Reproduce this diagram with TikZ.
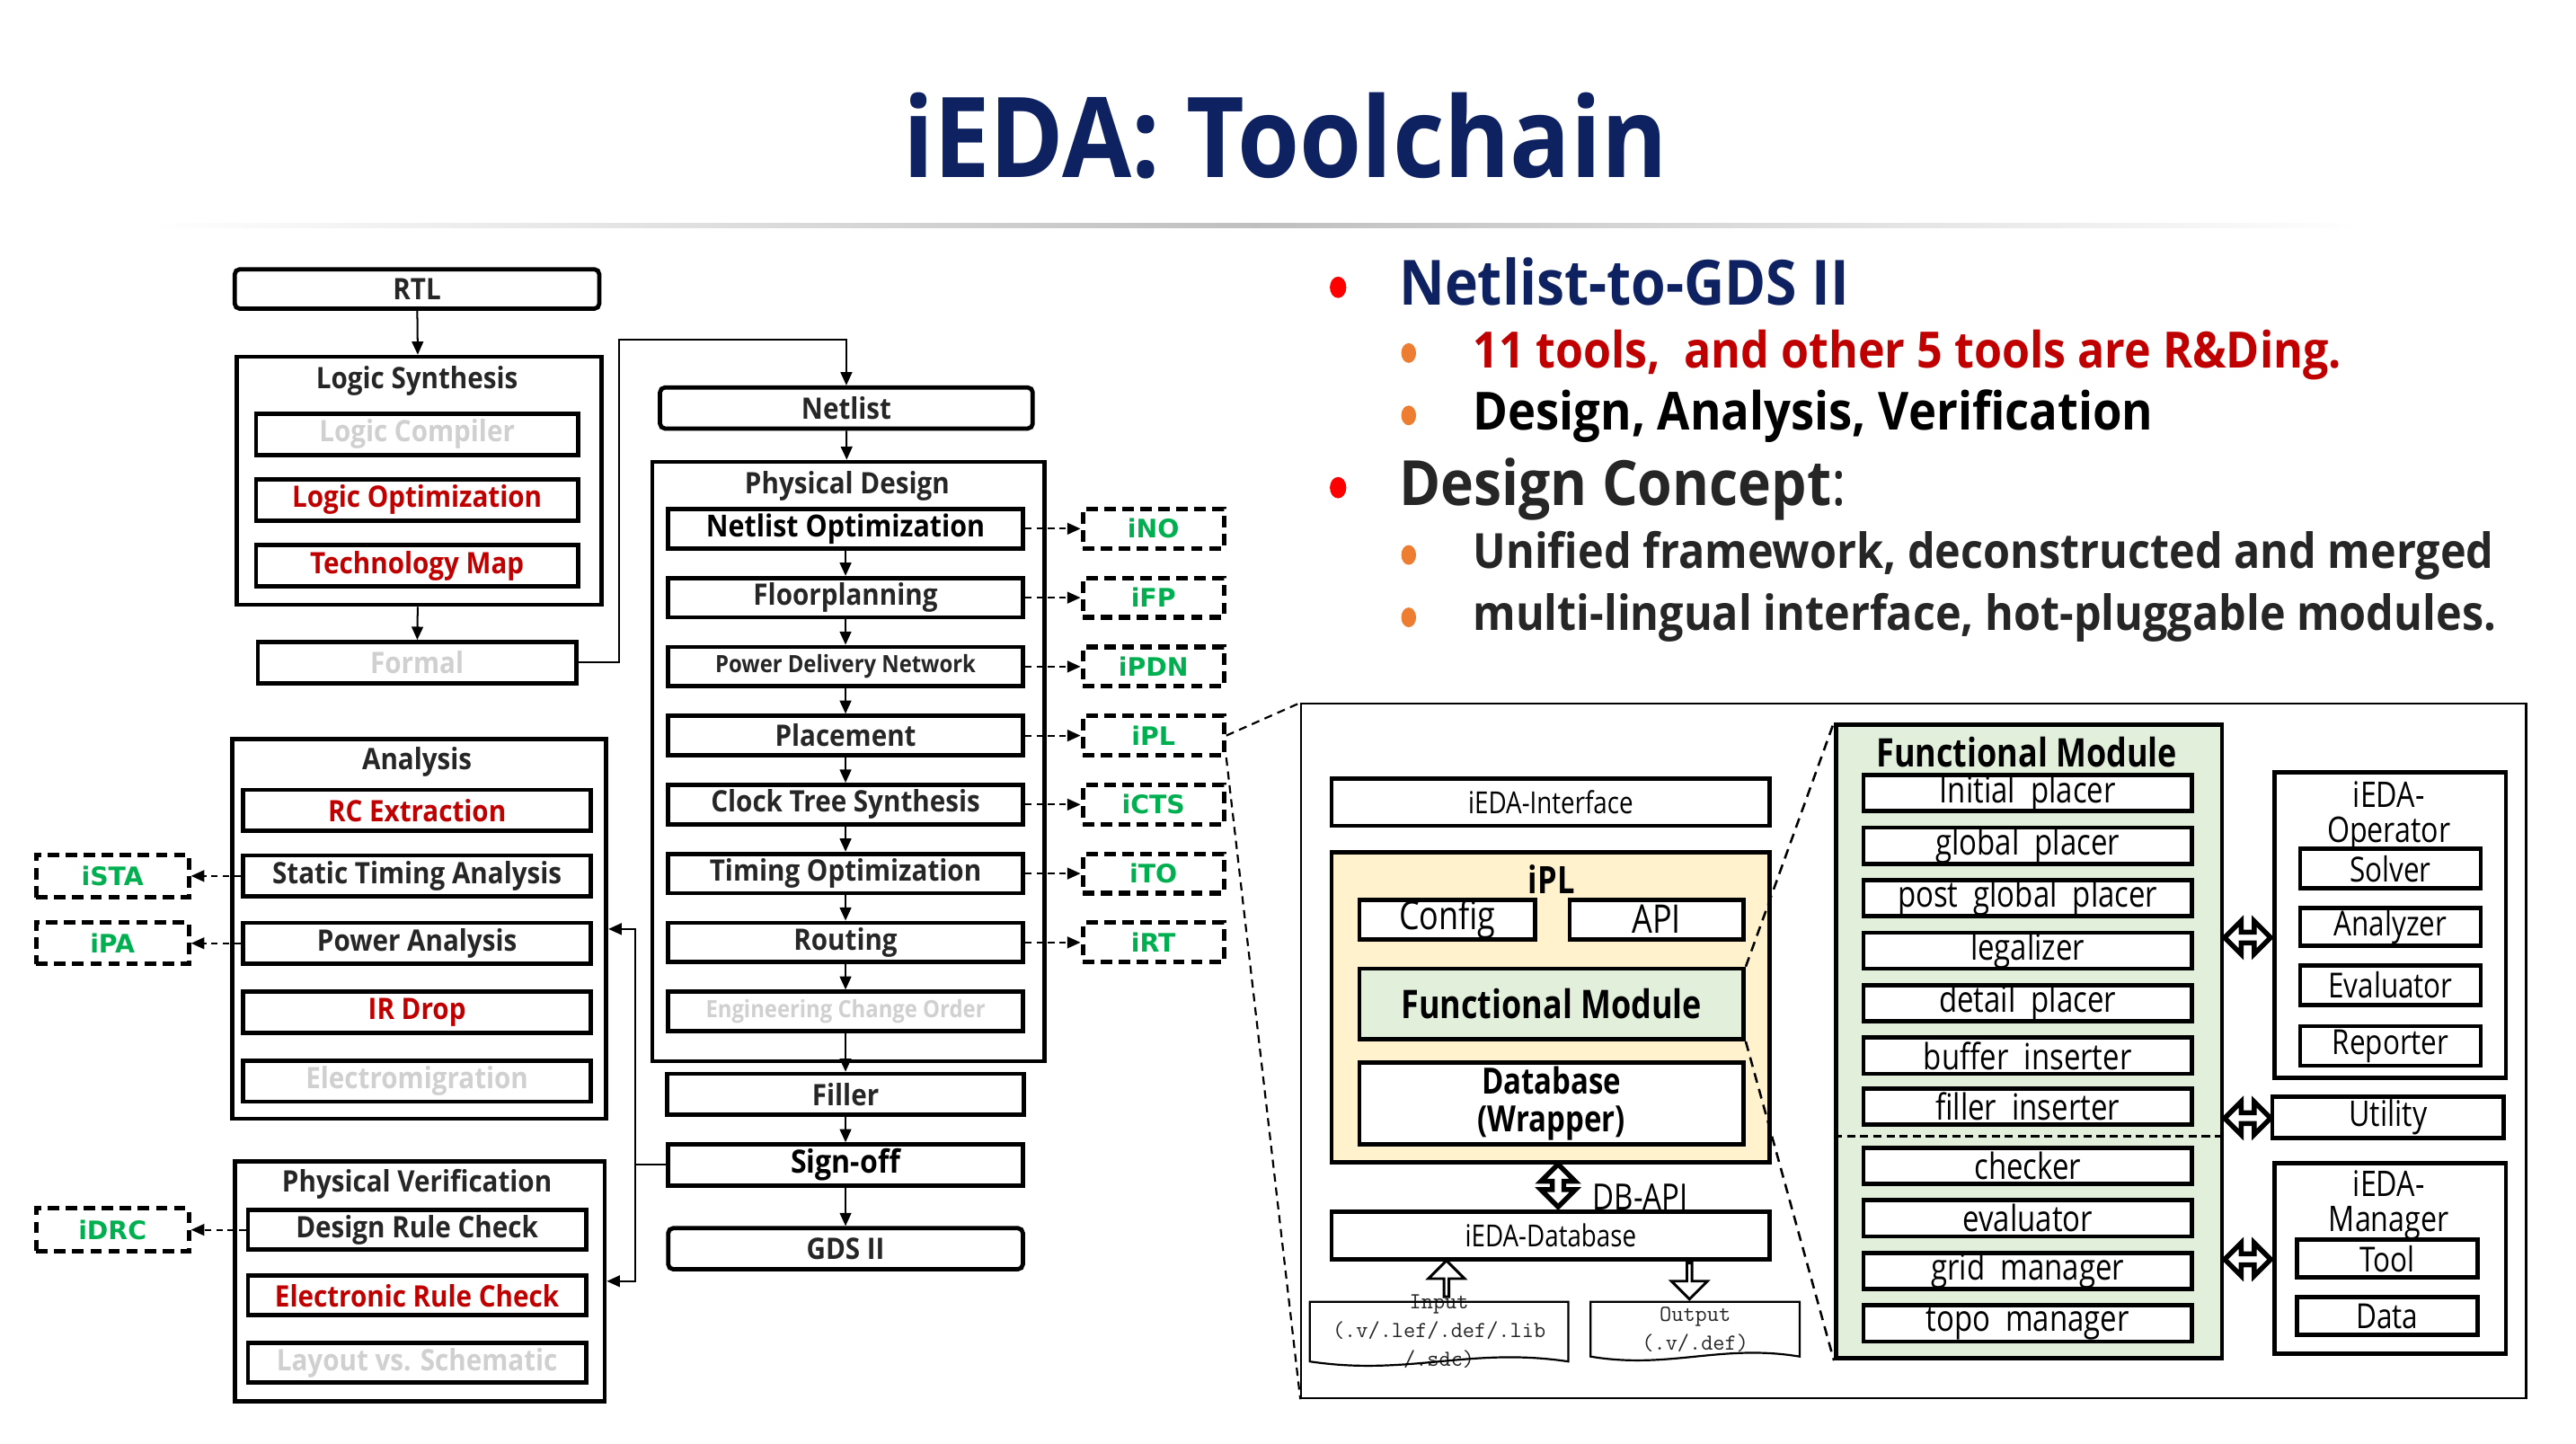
\documentclass[tikz,border=0pt]{standalone}
\usepackage{fontspec}
\setmainfont{Open Sans}[FakeStretch=0.9]
\newfontfamily\panelfont{Open Sans}[FakeStretch=0.82]
\newfontfamily\toolfont{DejaVu Sans}
\usepackage{tikz}
\usetikzlibrary{arrows.meta}
\usetikzlibrary{shapes.geometric}
\usetikzlibrary{shapes.arrows}
\usetikzlibrary{positioning}
\usepackage{xcolor}
\definecolor{navy}{HTML}{0E2160}
\definecolor{darkred}{HTML}{C00000}
\definecolor{toolgreen}{HTML}{00B050}
\definecolor{fadegray}{HTML}{D0D0D0}
\definecolor{txtgray}{HTML}{262626}
\definecolor{docgray}{HTML}{262626}
\definecolor{paleyellow}{HTML}{FFF2CC}
\definecolor{palegreen}{HTML}{E2EFDA}
\definecolor{bulletorange}{HTML}{ED7D31}
\tikzset{every node/.style={inner sep=0pt, align=center}}
\tikzstyle{block} = [draw=black, line width=2.6pt, fill=white, text=txtgray, font=\bfseries\fontsize{18}{20}\selectfont]
\tikzstyle{grp} = [draw=black, line width=2.6pt, anchor=north west]
\tikzstyle{grptitle} = [text=txtgray, font=\bfseries\fontsize{18}{20}\selectfont]
\tikzstyle{tool} = [draw=black, line width=2.8pt, dash pattern=on 7pt off 4pt, text=toolgreen, font=\toolfont\bfseries\fontsize{15.5}{17}\selectfont, minimum width=86pt]
\tikzstyle{ln} = [draw, ->, line width=1.1pt]
\tikzstyle{dln} = [draw, ->, line width=1.1pt, dash pattern=on 4pt off 3pt]
\tikzstyle{zoomln} = [draw, line width=1.4pt, dash pattern=on 6pt off 4pt]
\tikzstyle{pbox} = [draw=black, line width=2.6pt, fill=white, text=black, font=\panelfont\fontsize{22}{24}\selectfont]
\tikzstyle{hollow} = [draw=black, line width=3pt, fill=white]
\tikzstyle{dot} = [ellipse, minimum width=10pt, minimum height=13pt]
\tikzstyle{item} = [anchor=base west, font=\bfseries\fontsize{29.5}{32}\selectfont]

\begin{document}
\begin{tikzpicture}[x=1pt, y=-1pt, >={Triangle[length=8pt, width=7pt]}]
  \fill[white] (0,0) rectangle (1569,879.4);
  \useasboundingbox (0,0) rectangle (1569,879.4);

  % Title
  \node[anchor=base, text=navy, font=\bfseries\fontsize{68}{74}\selectfont] (title) at (783,108) {iEDA: Toolchain};
  \shade[left color=white, right color=white, middle color=black!25] (90,136) rectangle (1440,139);

  % Bullet points
  \node[dot, fill=red] (b1) at (815,175) {};
  \node[item, text=navy, font=\bfseries\fontsize{38}{42}\selectfont] (p1) at (852,186) {Netlist-to-GDS II};
  \node[dot, fill=bulletorange, minimum width=9pt, minimum height=12pt] (b2) at (858,215) {};
  \node[item, text=darkred, font=\bfseries\fontsize{30.5}{32}\selectfont] (p2) at (897,224) {11 tools,\ \ and other 5 tools are R\&Ding.};
  \node[dot, fill=bulletorange, minimum width=9pt, minimum height=12pt] (b3) at (858,253) {};
  \node[item, text=black, font=\bfseries\fontsize{32}{34}\selectfont] (p3) at (897,262) {Design, Analysis, Verification};
  \node[dot, fill=red] (b4) at (815,297) {};
  \node[item, text=txtgray, font=\fontsize{38}{42}\selectfont] (p4) at (852,308) {\textbf{Design Concept}:};
  \node[dot, fill=bulletorange, minimum width=9pt, minimum height=12pt] (b5) at (858,338) {};
  \node[item, text=txtgray] (p5) at (897,346) {Unified framework, deconstructed and merged};
  \node[dot, fill=bulletorange, minimum width=9pt, minimum height=12pt] (b6) at (858,376) {};
  \node[item, text=txtgray] (p6) at (897,384) {multi-lingual interface, hot-pluggable modules.};

  % Logic synthesis
  \node[block, rounded corners=3pt, minimum width=222pt, minimum height=24pt] (rtl) at (254,176) {RTL};
  \node[grp, minimum width=222pt, minimum height=151pt] (logsyn) at (143,216) {};
  \node[grptitle] (logsynT) at (254,232) {Logic Synthesis};
  \node[block, minimum width=196pt, minimum height=25pt, text=fadegray] (logcomp) at (254,264.5) {Logic Compiler};
  \node[block, minimum width=196pt, minimum height=25pt, text=darkred] (logopt) at (254,304.5) {Logic Optimization};
  \node[block, minimum width=196pt, minimum height=25pt, text=darkred] (techmap) at (254,344.5) {Technology Map};
  \node[block, minimum width=194pt, minimum height=25pt, text=fadegray] (formal) at (254,403.5) {Formal};

  % Physical design
  \node[block, rounded corners=3pt, minimum width=227pt, minimum height=25pt] (netlist) at (515.5,248.5) {Netlist};
  \node[grp, minimum width=239pt, minimum height=365pt] (pd) at (396,280) {};
  \node[grptitle] (pdT) at (516,296) {Physical Design};
  \node[block, minimum width=216pt, minimum height=24pt, text=black, font=\bfseries\fontsize{18.5}{20}\selectfont] (netopt) at (515,322) {Netlist Optimization};
  \node[block, minimum width=216pt, minimum height=24pt] (fp) at (515,364) {Floorplanning};
  \node[block, minimum width=216pt, minimum height=24pt, font=\bfseries\fontsize{14.5}{16}\selectfont] (pdn) at (515,406) {Power Delivery Network};
  \node[block, minimum width=216pt, minimum height=24pt] (place) at (515,448) {Placement};
  \node[block, minimum width=216pt, minimum height=24pt] (cts) at (515,490) {Clock Tree Synthesis};
  \node[block, minimum width=216pt, minimum height=24pt] (to) at (515,532) {Timing Optimization};
  \node[block, minimum width=216pt, minimum height=24pt] (route) at (515,574) {Routing};
  \node[block, minimum width=216pt, minimum height=24pt, text=fadegray, font=\bfseries\fontsize{14.5}{16}\selectfont] (eco) at (515,616) {Engineering Change Order};
  \node[block, minimum width=217pt, minimum height=25pt] (filler) at (515,666.5) {Filler};
  \node[block, minimum width=216pt, minimum height=25pt, text=black, font=\bfseries\fontsize{19.5}{21}\selectfont] (signoff) at (515,709.5) {Sign-off};
  \node[block, rounded corners=3pt, minimum width=216pt, minimum height=25pt] (gds) at (515,760.5) {GDS II};

  % Tools
  \node[tool, minimum height=24pt] (ino) at (702.5,322) {iNO};
  \node[tool, minimum height=24pt] (ifp) at (702.5,364) {iFP};
  \node[tool, minimum height=24pt] (ipdn) at (702.5,406) {iPDN};
  \node[tool, minimum height=24pt] (ipl) at (702.5,448) {iPL};
  \node[tool, minimum height=24pt] (icts) at (702.5,490) {iCTS};
  \node[tool, minimum height=24pt] (ito) at (702.5,532) {iTO};
  \node[tool, minimum height=24pt] (irt) at (702.5,574) {iRT};

  % Analysis
  \node[grp, minimum width=228pt, minimum height=231pt] (analysis) at (140,449) {};
  \node[grptitle] (analysisT) at (254,464) {Analysis};
  \node[block, minimum width=212pt, minimum height=25pt, text=darkred] (rc) at (254,493.5) {RC Extraction};
  \node[block, minimum width=212pt, minimum height=25pt] (sta) at (254,533.5) {Static Timing Analysis};
  \node[block, minimum width=212pt, minimum height=25pt] (pa) at (254,574.5) {Power Analysis};
  \node[block, minimum width=212pt, minimum height=25pt, text=darkred] (ir) at (254,616.5) {IR Drop};
  \node[block, minimum width=212pt, minimum height=25pt, text=fadegray] (em) at (254,658.5) {Electromigration};
  \node[tool, minimum width=93pt, minimum height=26pt] (ista) at (68.5,533.5) {iSTA};
  \node[tool, minimum width=93pt, minimum height=25pt] (ipa) at (68.5,574.5) {iPA};

  % Physical verification
  \node[grp, minimum width=225pt, minimum height=146pt] (pv) at (142,706) {};
  \node[grptitle] (pvT) at (254,721) {Physical Verification};
  \node[block, minimum width=206pt, minimum height=24pt] (drc) at (254,749) {Design Rule Check};
  \node[block, minimum width=206pt, minimum height=24pt, text=darkred] (erc) at (254,789) {Electronic Rule Check};
  \node[block, minimum width=206pt, minimum height=24pt, text=fadegray] (lvs) at (254,830) {Layout vs. Schematic};
  \node[tool, minimum width=93pt, minimum height=26pt] (idrc) at (68.5,749) {iDRC};

  % Paths
  \draw[ln] (rtl) -- (logsyn);
  \draw[ln] (logsyn) -- (formal);
  \draw[ln] (formal.east) -- ++(25,0) |- ([yshift=28pt]netlist.north) -- (netlist.north);
  \draw[ln] (netlist) -- (pd);
  \draw[ln] (netopt) -- (fp);
  \draw[ln] (fp) -- (pdn);
  \draw[ln] (pdn) -- (place);
  \draw[ln] (place) -- (cts);
  \draw[ln] (cts) -- (to);
  \draw[ln] (to) -- (route);
  \draw[ln] (route) -- (eco);
  \draw[ln] (eco) -- (filler);
  \draw[ln] (filler) -- (signoff);
  \draw[ln] (signoff) -- (gds);
  \draw[ln] (signoff.west) -- ++(-19,0) |- (analysis.east);
  \draw[ln] (signoff.west) -- ++(-19,0) |- (pv.east);
  \draw[dln] (netopt) -- (ino);
  \draw[dln] (fp) -- (ifp);
  \draw[dln] (pdn) -- (ipdn);
  \draw[dln] (place) -- (ipl);
  \draw[dln] (cts) -- (icts);
  \draw[dln] (to) -- (ito);
  \draw[dln] (route) -- (irt);
  \draw[dln] (sta) -- (ista);
  \draw[dln] (pa) -- (ipa);
  \draw[dln] (drc) -- (idrc);

  % Zoomed iPL panel
  \node[draw, line width=1.2pt, minimum width=746pt, minimum height=423pt, anchor=north west] (panel) at (792,428) {};
  \draw[zoomln, line width=1.2pt, dash pattern=on 5pt off 3.5pt] (ipl.east) -- (panel.north west);
  \draw[zoomln, line width=1.2pt, dash pattern=on 5pt off 3.5pt] (ipl.south east) -- (panel.south west);

  \node[pbox, minimum width=267pt, minimum height=29pt, font=\panelfont\fontsize{18.5}{20}\selectfont] (iface) at (944.5,488.5) {iEDA-Interface};
  \node[pbox, fill=paleyellow, minimum width=267pt, minimum height=189pt] (iplbox) at (944.5,613.5) {};
  \node[font=\panelfont\bfseries\fontsize{23}{25}\selectfont] (iplT) at (945,535.5) {iPL};
  \node[pbox, minimum width=107pt, minimum height=24pt, font=\panelfont\fontsize{24}{26}\selectfont] (config) at (881.5,560) {Config};
  \node[pbox, minimum width=106pt, minimum height=24pt, font=\panelfont\fontsize{24}{26}\selectfont] (api) at (1009,560) {API};
  \node[pbox, fill=palegreen, minimum width=234pt, minimum height=43pt, font=\panelfont\bfseries\fontsize{24}{26}\selectfont] (fmsmall) at (945,611.5) {Functional Module};
  \node[pbox, minimum width=234pt, minimum height=50pt, font=\panelfont\bfseries\fontsize{22}{23}\selectfont] (dbwrap) at (945,672) {Database\\(Wrapper)};
  \node[hollow, double arrow, shape border rotate=90, double arrow head extend=3pt, minimum height=26pt, minimum width=21pt] (dbapi) at (949,722) {};
  \node[anchor=base west, font=\panelfont\fontsize{22}{24}\selectfont] (dbapiT) at (970,737) {DB-API};
  \node[pbox, minimum width=267pt, minimum height=29pt, font=\panelfont\fontsize{18.5}{20}\selectfont] (iedadb) at (944.5,752.5) {iEDA-Database};
  \node[hollow, single arrow, shape border rotate=90, single arrow head extend=5pt, minimum height=22pt, minimum width=22pt, line width=1.6pt] (inarrow) at (881,779.5) {};
  \node[hollow, single arrow, shape border rotate=270, single arrow head extend=5pt, minimum height=22pt, minimum width=22pt, line width=1.6pt] (outarrow) at (1029,779.5) {};

  % Documents
  \node[minimum width=157pt, minimum height=36pt, label={[text=docgray, font=\ttfamily\fontsize{14}{17.5}\selectfont]center:Input\\(.v/.lef/.def/.lib\\/.sdc)}] (input) at (876.5,811) {};
  \draw[line width=1.2pt] (input.north west) -- (input.north east) -- (input.south east) .. controls +(-60,-9) and +(60,9) .. (input.south west) -- cycle;
  \node[minimum width=127pt, minimum height=33pt, label={[text=docgray, font=\ttfamily\fontsize{14}{17.5}\selectfont]center:Output\\(.v/.def)}] (output) at (1032.5,809.5) {};
  \draw[line width=1.2pt] (output.north west) -- (output.north east) -- (output.south east) .. controls +(-48,-8) and +(48,8) .. (output.south west) -- cycle;

  % Functional module detail
  \node[pbox, fill=palegreen, minimum width=235pt, minimum height=386pt, anchor=north west] (fmbig) at (1117,440) {};
  \draw[zoomln] (fmsmall.north east) -- (fmbig.north west);
  \draw[zoomln] (fmsmall.south east) -- (fmbig.south west);
  \node[font=\panelfont\bfseries\fontsize{24}{26}\selectfont] (fmT) at (1234.5,458) {Functional Module};
  \node[pbox, minimum width=200pt, minimum height=22pt] (initp) at (1235,483) {Initial\ \ placer};
  \node[pbox, minimum width=200pt, minimum height=22pt] (globp) at (1235,515) {global\ \ placer};
  \node[pbox, minimum width=200pt, minimum height=22pt] (postp) at (1235,547) {post\ \ global\ \ placer};
  \node[pbox, minimum width=200pt, minimum height=22pt] (legal) at (1235,579) {legalizer};
  \node[pbox, minimum width=200pt, minimum height=22pt] (detp) at (1235,611) {detail\ \ placer};
  \node[pbox, minimum width=200pt, minimum height=22pt] (bufins) at (1235,643) {buffer\ \ inserter};
  \node[pbox, minimum width=200pt, minimum height=22pt] (filins) at (1235,674) {filler\ \ inserter};
  \draw[line width=1.2pt, dash pattern=on 5pt off 3pt] (fmbig.west |- 0,692) -- (fmbig.east |- 0,692);
  \node[pbox, minimum width=200pt, minimum height=22pt] (checker) at (1235,710) {checker};
  \node[pbox, minimum width=200pt, minimum height=22pt] (evalr) at (1235,742) {evaluator};
  \node[pbox, minimum width=200pt, minimum height=22pt] (gridm) at (1235,774) {grid\ \ manager};
  \node[pbox, minimum width=200pt, minimum height=22pt] (topom) at (1235,806) {topo\ \ manager};

  % Operator, utility, manager
  \node[hollow, double arrow, double arrow head extend=3pt, minimum height=28pt, minimum width=20pt] (link1) at (1369,571) {};
  \node[hollow, double arrow, double arrow head extend=3pt, minimum height=28pt, minimum width=20pt] (link2) at (1369,681) {};
  \node[hollow, double arrow, double arrow head extend=3pt, minimum height=28pt, minimum width=20pt] (link3) at (1369,767) {};
  \node[pbox, minimum width=141pt, minimum height=186pt, anchor=north west] (opbox) at (1384,469) {};
  \node[font=\panelfont\fontsize{21.5}{21}\selectfont] (opT) at (1455,497) {iEDA-\\Operator};
  \node[pbox, minimum width=110pt, minimum height=24pt, font=\panelfont\fontsize{21}{22}\selectfont] (solver) at (1456,529) {Solver};
  \node[pbox, minimum width=110pt, minimum height=23pt, font=\panelfont\fontsize{21}{22}\selectfont] (analyzer) at (1456,564.5) {Analyzer};
  \node[pbox, minimum width=110pt, minimum height=24pt, font=\panelfont\fontsize{21}{22}\selectfont] (evaluator) at (1456,600) {Evaluator};
  \node[pbox, minimum width=110pt, minimum height=24pt, font=\panelfont\fontsize{21}{22}\selectfont] (reporter) at (1456,637) {Reporter};
  \node[pbox, minimum width=141pt, minimum height=25pt, font=\panelfont\fontsize{21.5}{22}\selectfont] (utility) at (1454.5,680.5) {Utility};
  \node[pbox, minimum width=141pt, minimum height=116pt, anchor=north west] (mgrbox) at (1384,707) {};
  \node[font=\panelfont\fontsize{21.5}{21}\selectfont] (mgrT) at (1455,734) {iEDA-\\Manager};
  \node[pbox, minimum width=110pt, minimum height=23pt, font=\panelfont\fontsize{21}{22}\selectfont] (toolbox) at (1454,766.5) {Tool};
  \node[pbox, minimum width=110pt, minimum height=23pt, font=\panelfont\fontsize{21}{22}\selectfont] (data) at (1454,801.5) {Data};
\end{tikzpicture}
\end{document}
